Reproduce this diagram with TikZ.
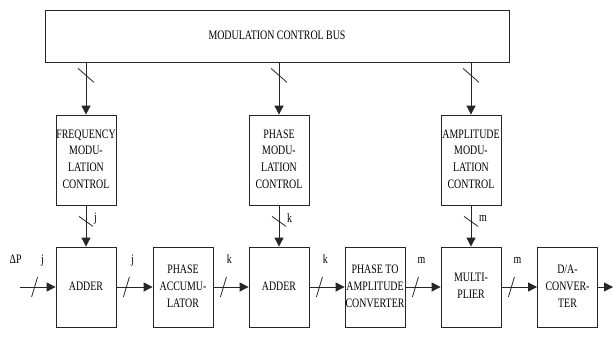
\documentclass[tikz,border=0pt]{standalone}
\usepackage{graphicx}
\usepackage{fontspec}
\setmainfont{Liberation Serif}
\usetikzlibrary{arrows.meta,calc}
% block captions: centred lines, slightly stretched vertically
\newcommand{\tallstack}[1]{\scalebox{1}[1.3]{\begin{tabular}{@{}c@{}}#1\end{tabular}}}
\newcommand{\tallword}[1]{\scalebox{1}[1.3]{#1}}
\begin{document}
\begin{tikzpicture}[x=1pt,y=-1pt,
  box/.style={draw=black!85, line width=0.8pt, minimum width=60pt, inner sep=0pt,
              font=\fontsize{9.9}{12.9}\selectfont},
  ctrl/.style={box, minimum height=90pt},
  unit/.style={box, minimum height=80pt},
  flow/.style={draw=black!85, line width=0.8pt, -{Triangle[length=9pt,width=9pt]}},
  tick/.style={draw=black!85, line width=0.8pt},
  lbl/.style={font=\fontsize{9.9}{12}\selectfont, inner sep=0pt}]
\useasboundingbox (0,0) rectangle (613,338);

% control bus
\node[box, minimum width=464pt, minimum height=51.5pt] (bus) at (277,36.25)
  {\tallstack{MODULATION CONTROL BUS}};

% modulation control blocks
\node[ctrl] (fmc) at (86,160)  {\tallstack{FREQUENCY\\MODU-\\LATION\\CONTROL}};
\node[ctrl] (pmc) at (279,160) {\tallstack{PHASE\\MODU-\\LATION\\CONTROL}};
\node[ctrl] (amc) at (471,160) {\tallstack{AMPLITUDE\\MODU-\\LATION\\CONTROL}};

% signal chain
\node[unit] (add1) at (86,287)    {\tallstack{ADDER}};
\node[unit] (acc)  at (183,287)   {\tallstack{PHASE\\ACCUMU-\\LATOR}};
\node[unit] (add2) at (279,287)   {\tallstack{ADDER}};
\node[unit] (p2a)  at (375,287)   {\tallstack{PHASE TO\\AMPLITUDE\\CONVERTER}};
\node[unit] (mul)  at (471,287)   {\tallstack{MULTI-\\PLIER}};
\node[unit] (dac)  at (567.5,287) {\tallstack{D/A-\\CONVER-\\TER}};

\coordinate (in)  at (20,287);
\coordinate (out) at (613,287);

% bus to control blocks
\foreach \c in {fmc,pmc,amc}{
  \draw[flow] (bus.south -| \c.north) -- (\c.north);
  \draw[tick] ($(bus.south -| \c.north)+(-8,6)$) -- ++(16,14);
}

% control blocks to the chain
\draw[flow] (fmc) -- (add1);
\draw[flow] (pmc) -- (add2);
\draw[flow] (amc) -- (mul);
\foreach \c/\w/\t in {fmc/lfj/j, pmc/lfk/k, amc/lfm/m}{
  \draw[tick] ($(\c.south)+(-7,11)$) -- ++(14,10);
  \node[lbl, anchor=west] (\w) at ($(\c.south)+(8,13)$) {\tallword{\t}};
}

% input
\draw[flow] (in) -- (add1);
\draw[tick] ($(add1.west)+(-21,0)$) ++(-3,10) -- ++(6,-20);
\node[lbl, anchor=base] (lin) at ($(add1.west)+(-13,-24)$) {\tallword{j}};
\node[lbl, anchor=base] (dp)  at ($(add1.west)+(-40,-24)$) {\tallword{ΔP}};

% chain connections
\foreach \a/\b/\w/\t in {add1/acc/l1/j, acc/add2/l2/k, add2/p2a/l3/k, p2a/mul/l4/m, mul/dac/l5/m}{
  \draw[flow] (\a) -- (\b);
  \draw[tick] ($(\a.east)+(10,0)$) ++(-3,10) -- ++(6,-20);
  \node[lbl, anchor=base] (\w) at ($(\a.east)+(16,-24)$) {\tallword{\t}};
}

% output
\draw[flow] (dac) -- (out);
\end{tikzpicture}
\end{document}
